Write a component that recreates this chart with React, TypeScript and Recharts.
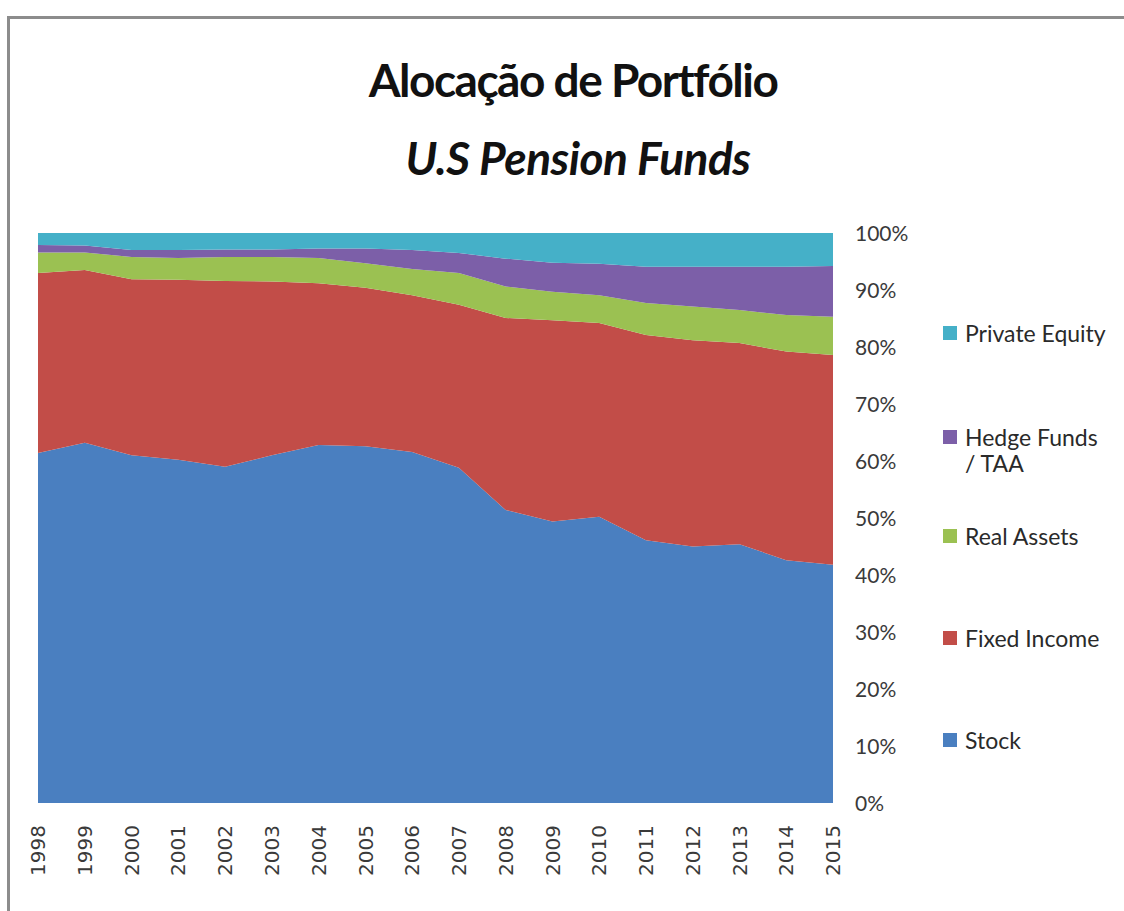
import React from "react";
import { AreaChart, Area, XAxis, YAxis, Legend } from "recharts";

const YEARS = [
  "1998", "1999", "2000", "2001", "2002", "2003", "2004", "2005", "2006",
  "2007", "2008", "2009", "2010", "2011", "2012", "2013", "2014", "2015",
];

// % of portfolio
const STOCK = [61.4, 63.2, 61.0, 60.2, 59.0, 61.0, 62.8, 62.6, 61.6, 58.8, 51.4, 49.4, 50.2, 46.1, 45.0, 45.4, 42.6, 41.8];
const FIXED_INCOME = [31.6, 30.3, 30.9, 31.6, 32.6, 30.5, 28.4, 27.8, 27.5, 28.6, 33.7, 35.3, 34.0, 36.0, 36.2, 35.3, 36.6, 36.8];
const REAL_ASSETS = [3.6, 3.1, 3.9, 3.8, 4.2, 4.3, 4.4, 4.3, 4.6, 5.6, 5.5, 5.0, 4.9, 5.6, 5.9, 5.8, 6.4, 6.7];
const HEDGE_FUNDS = [1.3, 1.2, 1.2, 1.4, 1.3, 1.3, 1.7, 2.6, 3.3, 3.5, 4.9, 5.1, 5.5, 6.4, 7.0, 7.6, 8.5, 8.9];
const PRIVATE_EQUITY = [2.1, 2.2, 3.0, 3.0, 2.9, 2.9, 2.7, 2.7, 3.0, 3.5, 4.5, 5.2, 5.4, 5.9, 5.9, 5.9, 5.9, 5.8];

const Y_TICKS = [0, 0.1, 0.2, 0.3, 0.4, 0.5, 0.6, 0.7, 0.8, 0.9, 1];

const SERIES = [
  { key: "stock", name: "Stock", color: "#4a7fc0" },
  { key: "fixed", name: "Fixed Income", color: "#c24d48" },
  { key: "real", name: "Real Assets", color: "#9bc152" },
  { key: "hedge", name: "Hedge Funds / TAA", color: "#7c5fa8" },
  { key: "pe", name: "Private Equity", color: "#45b0c8" },
];

const data = YEARS.map((year, i) => ({
  year,
  stock: STOCK[i],
  fixed: FIXED_INCOME[i],
  real: REAL_ASSETS[i],
  hedge: HEDGE_FUNDS[i],
  pe: PRIVATE_EQUITY[i],
}));

const FONT = "Lato, 'Open Sans', sans-serif";

const YearTick = ({ x, y, payload }: any) => (
  <g transform={`translate(${x},${y + 14})`}>
    <text
      x={0}
      y={0}
      dy="0.36em"
      transform="rotate(-90)"
      textAnchor="end"
      fontFamily="'DejaVu Sans', sans-serif"
      fontSize={20}
      fill="#3a3a3a"
    >
      {payload.value}
    </text>
  </g>
);

const PercentTick = ({ x, y, payload }: any) => (
  <text
    x={x + 14}
    y={y}
    dy="0.36em"
    textAnchor="start"
    fontFamily={FONT}
    fontSize={21}
    fill="#3a3a3a"
  >
    {Math.round(payload.value * 100)}%
  </text>
);

// legend item spacing (px), Excel spaced them unevenly
const LEGEND_GAPS = [0, 104, 99, 102, 102];

const LegendBox = ({ payload }: any) => {
  const order = SERIES.map((s) => s.name);
  const items = [...(payload || [])].sort(
    (a: any, b: any) => order.indexOf(b.value) - order.indexOf(a.value)
  );
  return (
    <div style={{ position: "relative", fontFamily: FONT, fontSize: 23, color: "#2a2a2a" }}>
      {items.map((it: any, i: number) => {
        const top = LEGEND_GAPS.slice(0, i + 1).reduce((a, b) => a + b, 0);
        const label = it.value === "Hedge Funds / TAA" ? ["Hedge Funds", "/ TAA"] : [it.value];
        return (
          <div key={it.value} style={{ position: "absolute", left: 0, top, lineHeight: "26px", whiteSpace: "nowrap" }}>
            <span
              style={{
                position: "absolute",
                left: 0,
                top: 6,
                width: 14,
                height: 14,
                background: it.color,
              }}
            />
            <div style={{ marginLeft: 22 }}>
              {label.map((l) => (
                <div key={l}>{l}</div>
              ))}
            </div>
          </div>
        );
      })}
    </div>
  );
};

export default function App() {
  return (
    <div
      style={{
        position: "absolute",
        left: 0,
        top: 0,
        width: 1124,
        height: 911,
        background: "#fff",
        overflow: "hidden",
      }}
    >
      <div
        style={{
          position: "absolute",
          left: 7,
          top: 16,
          right: -10,
          bottom: -10,
          borderTop: "3px solid #8c8c8c",
          borderLeft: "3px solid #8c8c8c",
        }}
      />
      <div
        style={{
          position: "absolute",
          left: 0,
          width: 1146,
          top: 52,
          textAlign: "center",
          fontFamily: FONT,
          fontWeight: "bold",
          fontSize: 46,
          letterSpacing: -1.5,
          lineHeight: "56px",
          color: "#111",
        }}
      >
        Alocação de Portfólio
      </div>
      <div
        style={{
          position: "absolute",
          left: 0,
          width: 1156,
          top: 130,
          textAlign: "center",
          fontFamily: FONT,
          fontWeight: "bold",
          fontStyle: "italic",
          fontSize: 46,
          letterSpacing: -0.5,
          lineHeight: "56px",
          color: "#111",
        }}
      >
        U.S Pension Funds
      </div>
      <div style={{ position: "absolute", left: 0, top: 0 }}>
        <AreaChart
          width={1124}
          height={911}
          data={data}
          stackOffset="expand"
          margin={{ top: 233, right: 211, bottom: 8, left: 38 }}
        >
          <XAxis
            dataKey="year"
            height={100}
            axisLine={false}
            tickLine={false}
            interval={0}
            tick={<YearTick />}
          />
          <YAxis
            orientation="right"
            width={80}
            domain={[0, 1]}
            ticks={Y_TICKS}
            axisLine={false}
            tickLine={false}
            interval={0}
            tick={<PercentTick />}
          />
          {SERIES.map((s) => (
            <Area
              key={s.key}
              type="linear"
              dataKey={s.key}
              name={s.name}
              stackId="1"
              stroke="none"
              fill={s.color}
              fillOpacity={1}
              isAnimationActive={false}
            />
          ))}
          <Legend
            layout="horizontal"
            verticalAlign="middle"
            align="center"
            content={<LegendBox />}
            wrapperStyle={{ position: "absolute", left: 943, top: 320, width: 180, height: 450 }}
          />
        </AreaChart>
      </div>
    </div>
  );
}
